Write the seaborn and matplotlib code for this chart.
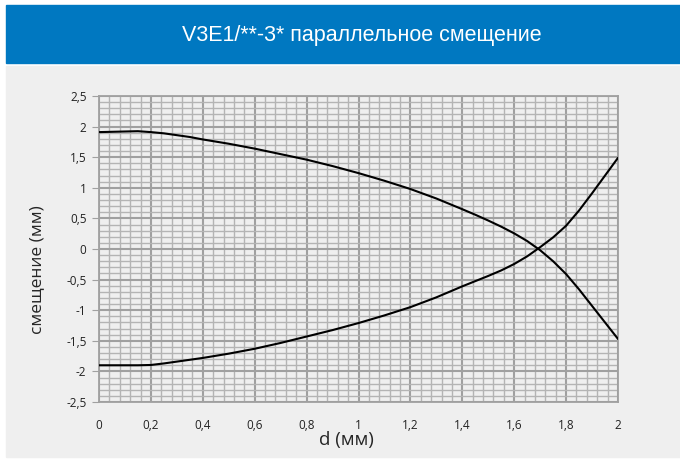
import pandas as pd
import seaborn as sns
import matplotlib.pyplot as plt
from matplotlib.patches import Rectangle
from matplotlib.ticker import MultipleLocator, FuncFormatter

d = [0, 0.05, 0.1, 0.15, 0.2, 0.25, 0.3, 0.35, 0.4, 0.5, 0.6, 0.7, 0.8, 0.9,
     1.0, 1.1, 1.2, 1.3, 1.4, 1.45, 1.5, 1.55, 1.6, 1.65, 1.7, 1.75, 1.8,
     1.85, 1.9, 1.95, 2.0]
upper = [1.91, 1.915, 1.92, 1.925, 1.91, 1.89, 1.86, 1.83, 1.79, 1.72, 1.64,
         1.55, 1.46, 1.355, 1.24, 1.115, 0.98, 0.825, 0.65, 0.56, 0.465, 0.365,
         0.255, 0.13, -0.02, -0.20, -0.41, -0.66, -0.93, -1.20, -1.47]
lower = [-1.90, -1.90, -1.90, -1.90, -1.895, -1.87, -1.84, -1.81, -1.78,
         -1.71, -1.63, -1.535, -1.43, -1.325, -1.21, -1.085, -0.95, -0.79,
         -0.61, -0.525, -0.44, -0.35, -0.245, -0.12, 0.03, 0.19, 0.38, 0.63,
         0.91, 1.20, 1.49]

df = pd.DataFrame({'d': d + d,
                   'shift': upper + lower,
                   'curve': ['upper'] * len(d) + ['lower'] * len(d)})

sns.set_style('white')
plt.rcParams['font.family'] = ['Open Sans', 'DejaVu Sans']

fig = plt.figure(figsize=(6.8, 4.61), dpi=100)
W, H = 680, 461

# header bar and grey panel (behind the axes)
fig.patches.append(Rectangle((6 / W, 1 - 63 / H), 1 - 6 / W, 58 / H,
                             transform=fig.transFigure, color='#0078c1', zorder=-2))
fig.patches.append(Rectangle((6 / W, 1 - 457 / H), 1 - 6 / W, 391 / H,
                             transform=fig.transFigure, color='#efefef', zorder=-2))
fig.text(362 / W, 1 - 35 / H, 'V3E1/**-3* параллельное смещение', color='white',
         fontsize=15.5, ha='center', va='center', family=['Liberation Sans', 'DejaVu Sans'])

ax = fig.add_axes([99 / W, 1 - 402 / H, 519 / W, 306 / H])
ax.set_facecolor('#efefef')

sns.lineplot(data=df, x='d', y='shift', units='curve', estimator=None,
             color='black', lw=1.5, ax=ax, zorder=5)

ax.set_xlim(0, 2)
ax.set_ylim(-2.5, 2.5)
ax.xaxis.set_major_locator(MultipleLocator(0.2))
ax.xaxis.set_minor_locator(MultipleLocator(0.04))
ax.yaxis.set_major_locator(MultipleLocator(0.5))
ax.yaxis.set_minor_locator(MultipleLocator(0.1))
fmt = FuncFormatter(lambda v, p: f'{round(v, 2):g}'.replace('.', ','))
ax.xaxis.set_major_formatter(fmt)
ax.yaxis.set_major_formatter(fmt)

ax.grid(which='minor', color='#b4b4b4', lw=1.0)
ax.grid(which='major', color='#a0a0a0', lw=1.5)
ax.set_axisbelow(True)
for s in ax.spines.values():
    s.set_color('#a0a0a0')
    s.set_linewidth(1.3)

ax.tick_params(axis='y', which='major', left=True, length=5, color='#a0a0a0',
               labelsize=8.5, pad=4, labelcolor='#222222')
ax.tick_params(axis='x', which='major', bottom=False, labelsize=8.5, pad=9,
               labelcolor='#222222')
ax.tick_params(which='minor', left=False, bottom=False)

ax.set_xlabel('')
ax.set_ylabel('')
fig.text(346 / W, 1 - 440 / H, 'd (мм)', fontsize=13.5, ha='center', va='center')
fig.text(37 / W, 1 - 270 / H, 'смещение (мм)', fontsize=12.5, ha='center',
         va='center', rotation=90)

plt.savefig('out.png', dpi=100)
